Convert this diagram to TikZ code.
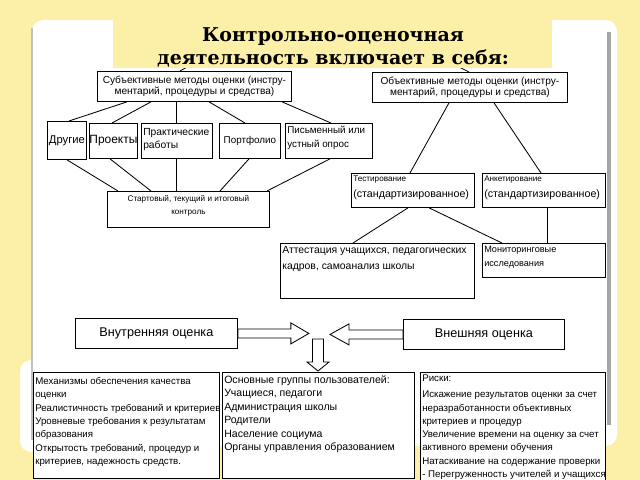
\documentclass[tikz,border=0pt]{standalone}
\usepackage{fontspec}
\setmainfont{Liberation Sans}
\newfontfamily\headfont{DejaVu Serif}
\usetikzlibrary{calc}
\newcommand{\pxu}{0.025cm}
\newcommand{\fsz}[2]{\fontsize{#1}{#2}\selectfont}

\definecolor{slideyellow}{RGB}{252,240,168}
\definecolor{framegray}{RGB}{165,165,165}

\tikzset{
  plainbox/.style={draw, line width=0.6pt, fill=white, inner sep=0pt, anchor=north west},
  intext/.style={anchor=north west, align=left, inner sep=0pt},
  link/.style={line width=0.6pt},
  blockarrow/.style={draw, line width=0.6pt, fill=white, line join=miter},
}

\begin{document}
\begin{tikzpicture}[x=\pxu, y=-\pxu]
    \useasboundingbox (0,0) rectangle (640,480);
    % slide
    \fill[slideyellow] (0,0) rectangle (640,480);
    \fill[white, rounded corners=8] (20,360) rectangle (46,452);
    \fill[white, rounded corners=8] (32,20) rectangle (617,446);
    \draw[framegray!70, line width=1pt] (32,28) -- (32,440);
    \fill[framegray] (607,32) rectangle (611,425);

    % subjective methods
    \node[plainbox, minimum width=194*\pxu, minimum height=30*\pxu, align=center, font=\fsz{7.2}{7.6}] (subj) at (97,71) {Субъективные методы оценки (инстру-\\ментарий, процедуры и средства)};
    \node[plainbox, minimum width=39*\pxu, minimum height=38*\pxu, font=\fsz{8}{9}] (other) at (47,121) {Другие};
    \node[plainbox, minimum width=46*\pxu, minimum height=35*\pxu, font=\fsz{8.5}{9}] (proj) at (89,123) {Проекты};
    \node[plainbox, minimum width=71*\pxu, minimum height=35*\pxu] (pract) at (141,123) {};
    \node[intext, font=\fsz{7.3}{9.2}] (pract-t) at ($(pract.north west)+(2,5)$) {Практические\\работы};
    \node[plainbox, minimum width=61*\pxu, minimum height=35*\pxu, font=\fsz{7}{8}] (portf) at (219,123) {Портфолио};
    \node[plainbox, minimum width=87*\pxu, minimum height=35*\pxu] (oral) at (285,123) {};
    \node[intext, font=\fsz{7}{9.6}] (oral-t) at ($(oral.north west)+(2,3)$) {Письменный или\\устный опрос};
    \node[plainbox, minimum width=162*\pxu, minimum height=36*\pxu] (start) at (107,191) {};
    \node[intext, anchor=north, align=center, font=\fsz{5.8}{9.2}] (start-t) at ($(start.north)+(0,4)$) {Стартовый, текущий и итоговый\\контроль};

    \draw[link] (subj.south -| 127,0) -- (other.north -| 69,0);
    \draw[link] (subj.south -| 151,0) -- (proj.north -| 112,0);
    \draw[link] (subj.south -| 176,0) -- (pract.north -| 176,0);
    \draw[link] (subj.south -| 209,0) -- (portf.north -| 245,0);
    \draw[link] (subj.south -| 282,0) -- (oral.north -| 331,0);
    \draw[link] (other.south -| 67,0) -- (start.north -| 118,0);
    \draw[link] (proj.south -| 110,0) -- (start.north -| 151,0);
    \draw[link] (pract.south -| 176,0) -- (start.north -| 176,0);
    \draw[link] (portf.south -| 249,0) -- (start.north -| 220,0);
    \draw[link] (oral.south -| 330,0) -- (start.north -| 267,0);

    % objective methods
    \node[plainbox, minimum width=195*\pxu, minimum height=30*\pxu, align=center, font=\fsz{7.2}{7.6}] (obj) at (372,72) {Объективные методы оценки (инстру-\\ментарий, процедуры и средства)};
    \node[plainbox, minimum width=123*\pxu, minimum height=34*\pxu] (test) at (351,173) {};
    \node[intext, font=\fsz{7.6}{11.3}] (test-t) at ($(test.north west)+(2,3)$) {{\fsz{5.8}{7}Тестирование}\\(стандартизированное)};
    \node[plainbox, minimum width=123*\pxu, minimum height=34*\pxu] (quest) at (482,173) {};
    \node[intext, font=\fsz{7.6}{11.3}] (quest-t) at ($(quest.north west)+(2,3)$) {{\fsz{5.8}{7}Анкетирование}\\(стандартизированное)};
    \node[plainbox, minimum width=194*\pxu, minimum height=55*\pxu] (attest) at (280,243) {};
    \node[intext, font=\fsz{7.4}{11.3}] (attest-t) at ($(attest.north west)+(2,3)$) {Аттестация учащихся, педагогических\\кадров, самоанализ школы};
    \node[plainbox, minimum width=123*\pxu, minimum height=34*\pxu] (monitor) at (482,243) {};
    \node[intext, font=\fsz{6.5}{10}] (monitor-t) at ($(monitor.north west)+(2,3)$) {Мониторинговые\\исследования};

    \draw[link] (obj.south -| 449,0) -- (test.north -| 410,0);
    \draw[link] (obj.south -| 494,0) -- (quest.north -| 541,0);
    \draw[link] (test.south -| 408,0) -- (attest.north -| 353,0);
    \draw[link] (test.south -| 429,0) -- (monitor.north -| 502,0);
    \draw[link] (quest.south -| 547,0) -- (monitor.north -| 547,0);

    % title, drawn over the two upper links
    \coordinate (tl) at (235,40);
    \coordinate (tr) at (405,40);
    \draw[link] (tl) -- (subj.north -| 180,0);
    \draw[link] (tr) -- (obj.north -| 469,0);
    \node[fill=slideyellow, inner sep=0pt, anchor=north west, minimum width=439*\pxu, minimum height=54*\pxu] (title) at (113,14) {};
    \node[inner sep=0pt, align=center, font=\headfont\bfseries\fsz{13.5}{16}] (title-t) at (333,47.5) {Контрольно-оценочная\\деятельность включает в себя:};

    % inner and outer assessment
    \node[plainbox, minimum width=162*\pxu, minimum height=30*\pxu, font=\fsz{9}{10}] (inner) at (75,318) {Внутренняя оценка};
    \node[plainbox, minimum width=161*\pxu, minimum height=30*\pxu, font=\fsz{9}{10}] (outer) at (403,319) {Внешняя оценка};
    \coordinate (hub) at (318,339);

    \draw[blockarrow] (inner.east) ++(0,-4.5) -- ++(53,0) -- ++(0,-6) -- ++(18,10.5) -- ++(-18,10.5) -- ++(0,-6) -- ++(-53,0) -- cycle;
    \draw[blockarrow] (outer.west) ++(0,-4.5) -- ++(-54,0) -- ++(0,-6) -- ++(-19,10.5) -- ++(19,10.5) -- ++(0,-6) -- ++(54,0) -- cycle;

    % bottom row
    \node[plainbox, minimum width=186*\pxu, minimum height=106*\pxu] (mech) at (33,372) {};
    \node[intext, font=\fsz{6.9}{9.5}] (mech-t) at ($(mech.north west)+(2,5)$) {Механизмы обеспечения качества\\оценки\\Реалистичность требований и критериев\\Уровневые требования к результатам\\образования\\Открытость требований, процедур и\\критериев, надежность средств.};
    \node[plainbox, minimum width=192*\pxu, minimum height=106*\pxu] (users) at (222,372) {};
    \node[intext, font=\fsz{7.5}{9.6}] (users-t) at ($(users.north west)+(2,3)$) {Основные группы пользователей:\\Учащиеся, педагоги\\Администрация школы\\Родители\\Население социума\\Органы управления образованием};
    \node[plainbox, minimum width=185*\pxu, minimum height=108*\pxu] (risks) at (420,372) {};
    \node[intext, font=\fsz{6.9}{9.4}] (risks-t) at ($(risks.north west)+(2,3)$) {Риски:\\[2pt]Искажение результатов оценки за счет\\неразработанности объективных\\критериев и процедур\\Увеличение времени на оценку за счет\\активного времени обучения\\Натаскивание на содержание проверки\\- Перегруженность учителей и учащихся};

    \draw[blockarrow] (hub) ++(-5.5,0) -- ++(0,23) -- ++(-5.5,0) -- ++(11,9) -- ++(11,-9) -- ++(-5.5,0) -- ++(0,-23) -- cycle;
\end{tikzpicture}
\end{document}
